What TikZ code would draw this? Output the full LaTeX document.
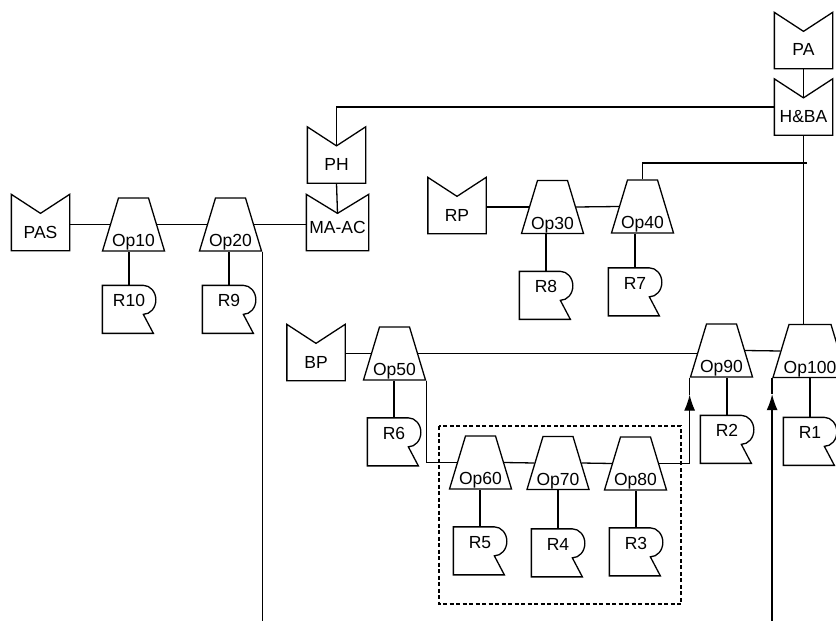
\documentclass[tikz,border=0pt]{standalone}
\usepackage{fontspec}
\setmainfont{Liberation Sans}
\usetikzlibrary{shapes.geometric,arrows.meta}

\begin{document}
\begin{tikzpicture}[x=1pt, y=-1pt, line width=1.3pt,
    font=\fontsize{17.5}{20}\selectfont,
    supply/.style={minimum width=57pt, inner sep=0pt, text height=43pt, text depth=12pt,
      append after command={\pgfextra{\draw[line join=miter] (\tikzlastnode.north west)
        -- ([yshift=-19pt]\tikzlastnode.north) -- (\tikzlastnode.north east)
        -- (\tikzlastnode.south east) -- (\tikzlastnode.south west) -- cycle;}}},
    res/.style={minimum width=52pt, inner sep=0pt, text height=20.5pt, text depth=27.5pt,
      append after command={\pgfextra{\draw (\tikzlastnode.north west) -- ++(41pt,0)
        arc[start angle=90, end angle=-90, x radius=12.5pt, y radius=14.5pt]
        -- ++(10pt,-19pt) -- ++(-51pt,0) -- cycle;}}},
    op/.style={trapezium, trapezium angle=73.2, draw, inner xsep=15pt, inner ysep=26.5pt,
      label={[anchor=base, yshift=-18pt]center:#1}},
    flow/.style={-{Latex[length=16pt, width=11pt]}}]
  \useasboundingbox (0,0) rectangle (836,621);

  % supplies
  \node[supply] (pas) at (40.5,222.5) {PAS};
  \node[supply, minimum width=61pt, text height=38.5pt, text depth=16.5pt] (maac) at (337.5,222.5) {MA-AC};
  \node[supply] (ph) at (336.5,155) {PH};
  \node[supply] (rp) at (457,205.5) {RP};
  \node[supply] (pa) at (803.5,40.5) {PA};
  \node[supply] (hba) at (803.5,107) {H\&BA};
  \node[supply] (bp) at (316,352.5) {BP};

  % operations
  \node[op=Op10] (op10) at (133.5,224.5) {};
  \node[op=Op20] (op20) at (230.5,224.5) {};
  \node[op=Op30] (op30) at (552.5,207) {};
  \node[op=Op40] (op40) at (642.5,206.5) {};
  \node[op=Op50] (op50) at (394.5,353.5) {};
  \node[op=Op60] (op60) at (480.5,462.5) {};
  \node[op=Op70] (op70) at (558,463) {};
  \node[op=Op80] (op80) at (635.5,463.5) {};
  \node[op=Op90] (op90) at (721.5,350.5) {};
  \node[op=Op100, inner xsep=21pt] (op100) at (810,351) {};

  % resources
  \node[res] (r10) at (129,310) {R10};
  \node[res] (r9) at (229,310) {R9};
  \node[res] (r8) at (546,296) {R8};
  \node[res] (r7) at (635,292.5) {R7};
  \node[res] (r6) at (394,442.5) {R6};
  \node[res] (r5) at (480,551.5) {R5};
  \node[res] (r4) at (558,553.5) {R4};
  \node[res] (r3) at (636,552.5) {R3};
  \node[res] (r2) at (727,440) {R2};
  \node[res] (r1) at (810,442) {R1};

  \coordinate (tap) at (807,163);
  \coordinate (out20) at (262,621);
  \coordinate (in100) at (772,621);

  % material flow
  \draw (pas.east |- op10.west) -- (op10.west);
  \draw (op10.east) -- (op20.west);
  \draw (op20.east) -- (op20.east -| maac.west);
  \draw (op20.bottom right corner) -- (op20.bottom right corner |- out20);
  \draw (ph.south) -- ([yshift=-19pt]maac.north);
  \draw (hba.west) -| ([yshift=-19pt]ph.north);
  \draw (pa.south) -- ([yshift=-19pt]hba.north);
  \draw (hba.south) -- (hba.south |- op100.north);
  \draw (op40.north) |- (tap);
  \draw (rp.east |- op30.west) -- (op30.west);
  \draw (op30.east) -- (op40.west);
  \draw (bp.east |- op50.west) -- (op50.west);
  \draw (op50.east) -- (op50.east -| op90.west);
  \draw (op90.east) -- (op100.west);
  \draw (op50.bottom right corner) |- (op60.west);
  \draw (op60.east) -- (op70.west);
  \draw (op70.east) -- (op80.west);
  \draw[flow] (op80.east) -| ([yshift=-17pt]op90.bottom left corner);
  \draw ([yshift=-17pt]op90.bottom left corner) -- (op90.bottom left corner);
  \draw[flow] (op100.bottom left corner |- in100) -- ([yshift=-16pt]op100.bottom left corner);
  \draw ([yshift=-16pt]op100.bottom left corner) -- (op100.bottom left corner);

  % resource links
  \foreach \o/\r in {op10/r10, op20/r9, op30/r8, op40/r7, op50/r6, op60/r5, op70/r4, op80/r3, op90/r2, op100/r1}
    \draw (\r.north) -- (\r.north |- \o.south);

  % cell boundary
  \draw[dash pattern=on 4pt off 2.5pt] (439,426) rectangle (681,604);
\end{tikzpicture}
\end{document}
